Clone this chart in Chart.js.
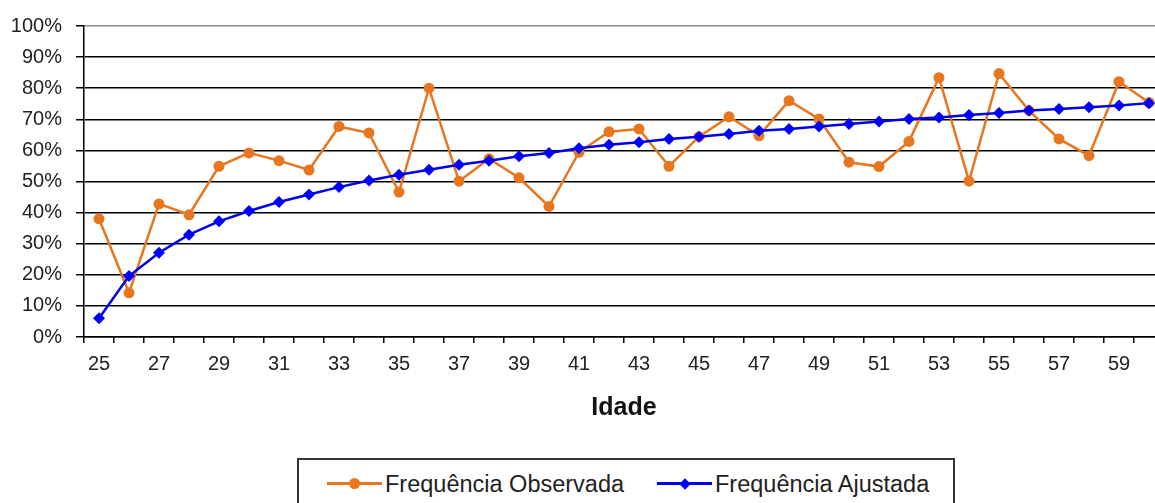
<!DOCTYPE html>
<html lang="pt-BR">
<head>
<meta charset="utf-8">
<title>Frequência Observada x Ajustada</title>
<script src="https://cdn.jsdelivr.net/npm/chart.js@4.4.1/dist/chart.umd.min.js"></script>
<style>
  html, body { margin: 0; padding: 0; background: #fff; overflow: hidden; width: 1155px; height: 503px; }
  #wrap { position: relative; width: 1170px; height: 503px; }
  #grafico { display: block; }
  #legenda {
    position: absolute; left: 297px; top: 458px; width: 658px; height: 60px;
    box-sizing: border-box; border: 2px solid #333; background: #fff;
    font-family: "Liberation Sans", Arial, sans-serif; font-size: 23.5px; color: #222;
  }
  .item { position: absolute; top: 10px; height: 28px; line-height: 28px; white-space: nowrap; }
  .amostra { position: absolute; top: 13px; width: 55px; height: 3px; }
  .marca { position: absolute; left: 50%; top: 50%; }
</style>
</head>
<body>
<div id="wrap">
  <canvas id="grafico" width="1170" height="503"></canvas>
  <div id="legenda"></div>
</div>
<script>
// ===== Dados =====
const idades = [25, 26, 27, 28, 29, 30, 31, 32, 33, 34, 35, 36, 37, 38, 39, 40, 41, 42,
  43, 44, 45, 46, 47, 48, 49, 50, 51, 52, 53, 54, 55, 56, 57, 58, 59, 60];

// frequência observada (%)
const freqObservada = [38.0, 14.2, 42.8, 39.3, 54.9, 59.2, 56.7, 53.7, 67.7, 65.6, 46.6, 80.0,
  50.1, 57.3, 51.2, 42.0, 59.4, 66.0, 66.9, 54.9, 64.4, 70.8, 64.7, 76.0, 70.1, 56.2, 54.8,
  62.9, 83.4, 50.1, 84.7, 72.8, 63.7, 58.3, 82.1, 75.4];

// frequência ajustada (%)
const freqAjustada = [6.0, 19.6, 27.1, 32.9, 37.2, 40.5, 43.4, 45.8, 48.2, 50.3, 52.2, 53.8,
  55.4, 56.7, 58.1, 59.2, 60.7, 61.8, 62.6, 63.7, 64.4, 65.3, 66.3, 66.9, 67.7, 68.5, 69.3,
  70.1, 70.6, 71.4, 72.0, 72.8, 73.3, 73.9, 74.4, 75.2];

const ticksY = [0, 10, 20, 30, 40, 50, 60, 70, 80, 90, 100];

const FONTE = '"Liberation Sans", Arial, sans-serif';
const COR_LARANJA = "#E8761E";
const COR_AZUL = "#0000F0";

// ===== Gráfico =====
const ctx = document.getElementById("grafico").getContext("2d");
const grafico = new Chart(ctx, {
  type: "line",
  data: {
    labels: idades.map(String),
    datasets: [
      {
        label: "Frequência Observada",
        data: freqObservada,
        borderColor: COR_LARANJA,
        backgroundColor: COR_LARANJA,
        borderWidth: 2.5,
        pointStyle: "circle",
        pointRadius: 5.5,
        pointBorderWidth: 0,
        tension: 0,
        order: 1
      },
      {
        label: "Frequência Ajustada",
        data: freqAjustada,
        borderColor: COR_AZUL,
        backgroundColor: "#0000FF",
        borderWidth: 2.5,
        pointStyle: "rectRot",
        pointRadius: 6,
        pointBorderWidth: 0,
        tension: 0,
        order: 0
      }
    ]
  },
  options: {
    responsive: false,
    animation: false,
    layout: { padding: { left: 0, top: 25, right: 6, bottom: 80 } },
    plugins: {
      legend: { display: false },
      tooltip: { enabled: false }
    },
    scales: {
      x: {
        offset: true,
        grid: {
          display: true,
          offset: true,
          drawOnChartArea: false,
          drawTicks: true,
          tickLength: 6,
          color: "#000",
          lineWidth: 1.5
        },
        border: { display: true, color: "#000", width: 1.5 },
        ticks: {
          autoSkip: false,
          maxRotation: 0,
          minRotation: 0,
          padding: 9,
          color: "#222",
          font: { family: FONTE, size: 20 },
          callback: (v, i) => (i % 2 === 0 ? idades[i] : "")
        },
        title: {
          display: true,
          text: "Idade",
          color: "#111",
          font: { family: FONTE, size: 25, weight: "bold" },
          padding: { top: 0, bottom: 0 }
        },
        afterFit: (scale) => { scale.height = 86; }
      },
      y: {
        min: 0,
        max: 100,
        afterBuildTicks: (scale) => { scale.ticks = ticksY.map((v) => ({ value: v })); },
        grid: {
          color: (c) => (c.tick && c.tick.value === 100 ? "#8a8a8a" : "#000"),
          tickColor: "#000",
          lineWidth: 1.5,
          tickLength: 8
        },
        border: { display: true, color: "#000", width: 1.5 },
        ticks: {
          padding: 14,
          color: "#222",
          font: { family: FONTE, size: 20 },
          callback: (v) => v + "%"
        },
        afterFit: (scale) => { scale.width = 84; }
      }
    }
  }
});

// ===== Legenda (estilo Excel, com moldura) =====
const legenda = document.getElementById("legenda");
const itensLegenda = [
  { texto: grafico.data.datasets[0].label, cor: COR_LARANJA, linha: 28, textoX: 86, forma: "circulo" },
  { texto: grafico.data.datasets[1].label, cor: COR_AZUL, linha: 358, textoX: 416, forma: "losango" }
];
itensLegenda.forEach((it) => {
  const amostra = document.createElement("div");
  amostra.className = "amostra";
  amostra.style.left = it.linha + "px";
  amostra.style.top = "22px";
  amostra.style.background = it.cor;
  const marca = document.createElement("div");
  marca.className = "marca";
  if (it.forma === "circulo") {
    marca.style.cssText += "width:11px;height:11px;margin:-5.5px 0 0 -5.5px;border-radius:50%;background:" + it.cor;
  } else {
    marca.style.cssText += "width:8px;height:8px;margin:-4px 0 0 -4px;transform:rotate(45deg);background:#0000FF";
  }
  amostra.appendChild(marca);
  legenda.appendChild(amostra);

  const span = document.createElement("div");
  span.className = "item";
  span.style.left = it.textoX + "px";
  span.textContent = it.texto;
  legenda.appendChild(span);
});
</script>
</body>
</html>
